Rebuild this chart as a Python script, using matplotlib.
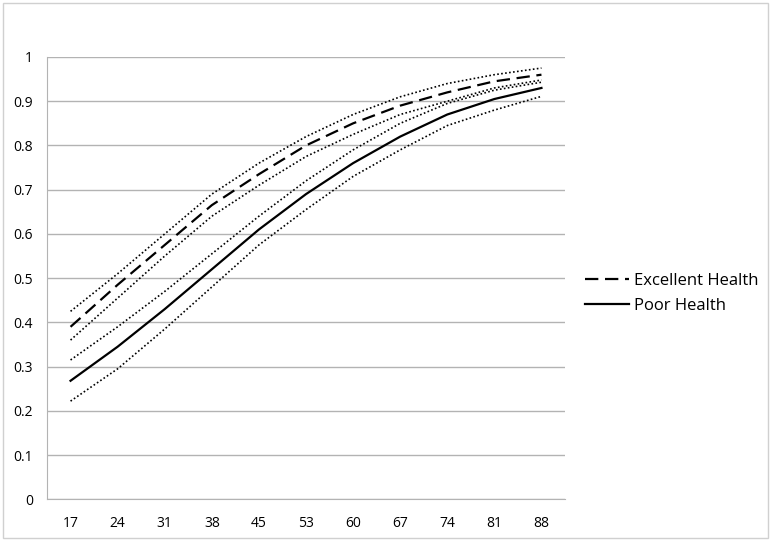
import matplotlib
matplotlib.use('Agg')
import matplotlib.pyplot as plt
from matplotlib.patches import Rectangle
import numpy as np

ages = ['17', '24', '31', '38', '45', '53', '60', '67', '74', '81', '88']

excellent = [0.39, 0.485, 0.575, 0.665, 0.735, 0.80, 0.85, 0.89, 0.92, 0.945, 0.96]
excellent_hi = [0.425, 0.51, 0.60, 0.69, 0.76, 0.82, 0.87, 0.91, 0.94, 0.96, 0.975]
excellent_lo = [0.36, 0.455, 0.55, 0.64, 0.71, 0.775, 0.825, 0.87, 0.90, 0.93, 0.948]

poor = [0.268, 0.345, 0.43, 0.52, 0.61, 0.69, 0.76, 0.82, 0.87, 0.905, 0.93]
poor_hi = [0.315, 0.39, 0.47, 0.555, 0.64, 0.72, 0.79, 0.85, 0.895, 0.925, 0.943]
poor_lo = [0.222, 0.295, 0.385, 0.48, 0.575, 0.655, 0.73, 0.79, 0.845, 0.88, 0.911]

yticks = np.arange(0, 1.01, 0.1)

fig = plt.figure(figsize=(7.71, 5.41), dpi=100)
ax = fig.add_axes([47 / 771, 41.7 / 541, 518 / 771, 442.3 / 541])

font = 'Open Sans'
x = np.arange(len(ages))
dot = (0, (1, 1.4))

ax.plot(x, excellent_hi, color='black', lw=1.2, ls=dot)
ax.plot(x, excellent_lo, color='black', lw=1.2, ls=dot)
ax.plot(x, poor_hi, color='black', lw=1.2, ls=dot)
ax.plot(x, poor_lo, color='black', lw=1.2, ls=dot)
ax.plot(x, excellent, color='black', lw=1.6, ls=(0, (6, 3)), label='Excellent Health')
ax.plot(x, poor, color='black', lw=1.6, label='Poor Health')

ax.set_xlim(-0.5, len(ages) - 0.5)
ax.set_ylim(0, 1)
ax.set_xticks(x)
ax.set_xticklabels(ages, fontfamily=font, fontsize=10)
ax.set_yticks(yticks)
ax.set_yticklabels(['0' if v == 0 else ('1' if v > 0.99 else f'{v:.1f}') for v in yticks],
                   fontfamily=font, fontsize=10)
ax.tick_params(length=0, pad=12, colors='black')
ax.tick_params(axis='y', pad=10)
ax.grid(axis='y', color='#b3b3b3', lw=1)
ax.set_axisbelow(True)
for s in ['top', 'right']:
    ax.spines[s].set_visible(False)
for s in ['left', 'bottom']:
    ax.spines[s].set_color('#b3b3b3')

ax.legend(loc='center left', bbox_to_anchor=(1.01, 0.465), frameon=False,
          prop={'family': font, 'size': 12}, handlelength=2.6, labelspacing=0.55,
          handletextpad=0.3)

fig.patches.append(Rectangle((3 / 771, 3 / 541), 765 / 771, 535 / 541, transform=fig.transFigure,
                             fill=False, edgecolor='#d0d0d0', lw=1))

fig.savefig('out.png', dpi=100)
